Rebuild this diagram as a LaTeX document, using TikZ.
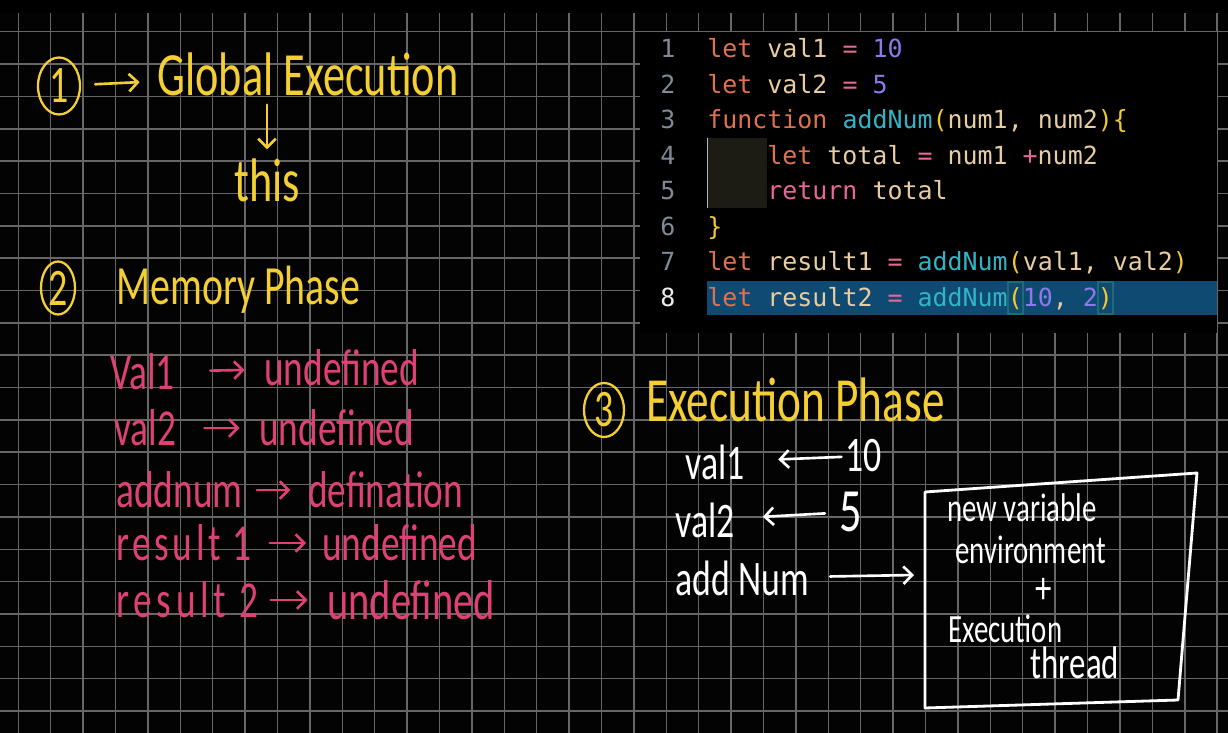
\documentclass[tikz,border=0pt]{standalone}
\usepackage{fontspec}
\usepackage{xcolor}
\usetikzlibrary{arrows.meta, positioning, shapes.geometric}

\setmainfont{Carlito}
\newfontfamily\handfont[FakeStretch=0.72]{Carlito}
\newfontfamily\codefont{DejaVu Sans Mono}

\definecolor{boardbg}{HTML}{030303}
\definecolor{gridgray}{HTML}{666666}
\definecolor{handyellow}{HTML}{F3CF33}
\definecolor{handpink}{HTML}{DE4175}
\definecolor{codekw}{HTML}{DE7150}
\definecolor{codeid}{HTML}{E8CCA2}
\definecolor{codeop}{HTML}{E8679A}
\definecolor{codenum}{HTML}{8C7AEA}
\definecolor{codefn}{HTML}{33B4C6}
\definecolor{codebr}{HTML}{F2C92E}
\definecolor{codeln}{HTML}{7F8A94}
\definecolor{hlbar}{HTML}{0E4A72}
\definecolor{indentbg}{HTML}{1C1B14}

% code tokens
\newcommand{\ckw}[1]{\textcolor{codekw}{#1}}
\newcommand{\cid}[1]{\textcolor{codeid}{#1}}
\newcommand{\cop}[1]{\textcolor{codeop}{#1}}
\newcommand{\cnum}[1]{\textcolor{codenum}{#1}}
\newcommand{\cfn}[1]{\textcolor{codefn}{#1}}
\newcommand{\cbr}[1]{\textcolor{codebr}{#1}}

\tikzset{
  gridline/.style={draw=gridgray, line width=0.9pt},
  codeline/.style={anchor=base west, inner sep=0pt, font=\codefont\fontsize{14.2}{17}\selectfont},
  lineno/.style={anchor=base, inner sep=0pt, text=codeln, font=\codefont\fontsize{14.2}{17}\selectfont},
  hand/.style={inner sep=0pt, font=\handfont\fontsize{29.5}{30}\selectfont},
  title/.style={hand, text=handyellow, font=\handfont\fontsize{35}{36}\selectfont},
  numcirc/.style={ellipse, draw=handyellow, text=handyellow, line width=1.3pt, inner sep=0pt,
    font=\handfont\fontsize{30}{30}\selectfont},
  memtext/.style={hand, anchor=west, text=handpink},
  exectext/.style={hand, anchor=west, text=white, font=\handfont\fontsize{28.3}{29}\selectfont},
  boxtext/.style={hand, anchor=west, text=white, font=\handfont\fontsize{22.8}{23}\selectfont},
  harrow/.style={->, line width=1.5pt, line cap=round},
}

\begin{document}
\begin{tikzpicture}[x=0.02cm, y=-0.02cm, >={Straight Barb[length=5pt,width=10pt]}]
  \useasboundingbox (0,0) rectangle (1228,733);
  \fill[boardbg] (0,0) rectangle (1228,733);
  \fill[black] (0,0) rectangle (1228,13);

  % grid
  \foreach \gx in {0,...,37}
    \draw[gridline] ({18.3+32.4*\gx},13) -- ({18.3+32.4*\gx},733);
  \foreach \gy in {0,...,21}
    \draw[gridline] (0,{31.7+32.35*\gy}) -- (1228,{31.7+32.35*\gy});

  % code panel
  \fill[black] (640,32) rectangle (1217,333);
  \fill[indentbg] (707,138) rectangle (767,208);
  \draw[codeln!60, line width=0.4pt] (707,138) -- (707,208);
  \fill[hlbar] (707,281) rectangle (1217,315);
  \draw[codefn!60!black, line width=0.6pt] (1008,282) rectangle (1023,314);
  \draw[codefn!60!black, line width=0.6pt] (1098,282) rectangle (1113,314);

  \foreach \ln in {1,...,7}
    \node[lineno] (ln\ln) at (668,{58+35.5*(\ln-1)}) {\ln};
  \node[lineno, text=white!85!gray] (ln8) at (668,306.5) {8};

  \node[codeline] (code1) at (707,58) {\ckw{let} \cid{val1} \cop{=} \cnum{10}};
  \node[codeline] (code2) at (707,93.5) {\ckw{let} \cid{val2} \cop{=} \cnum{5}};
  \node[codeline] (code3) at (707,129) {\ckw{function} \cfn{addNum}\cbr{(}\cid{num1, num2}\cbr{)\{}};
  \node[codeline] (code4) at (767,164.5) {\ckw{let} \cid{total} \cop{=} \cid{num1} \cop{+}\cid{num2}};
  \node[codeline] (code5) at (767,200) {\cop{return} \cid{total}};
  \node[codeline] (code6) at (707,235.5) {\cbr{\}}};
  \node[codeline] (code7) at (707,271) {\ckw{let} \cid{result1} \cop{=} \cfn{addNum}\cbr{(}\cid{val1, val2}\cbr{)}};
  \node[codeline] (code8) at (707,306.5) {\ckw{let} \cid{result2} \cop{=} \cfn{addNum}\cbr{(}\cnum{10}\cid{, }\cnum{2}\cbr{)}};

  % 1 -> global execution
  \node[numcirc, minimum width=0.84cm, minimum height=1.14cm] (c1) at (59,86) {1};
  \node[title] (global) at (308,74) {Global Execution};
  \node[title] (this) at (267,180) {this};
  \draw[harrow, draw=handyellow, shorten <=8pt, shorten >=10pt] (c1) -- (global);
  \draw[harrow, draw=handyellow, shorten <=5pt, shorten >=5pt] (global.south -| this.north) -- (this.north);

  % 2 memory phase
  \node[numcirc, minimum width=0.68cm, minimum height=1.06cm] (c2) at (58,288) {2};
  \node[title, anchor=west, font=\handfont\fontsize{31.5}{32}\selectfont] (memory) at (116,290) {Memory Phase};

  \node[memtext] (m1a) at (110,372) {Val1};
  \node[memtext] (m1b) at (264,368) {undefined};
  \node[memtext] (m2a) at (114,428) {val2};
  \node[memtext] (m2b) at (259,428) {undefined};
  \node[memtext] (m3a) at (116,490) {addnum};
  \node[memtext] (m3b) at (308,490) {defination};
  \node[memtext, font=\handfont\fontsize{29.5}{30}\selectfont\addfontfeature{LetterSpace=7}] (m4a) at (116,543) {result 1};
  \node[memtext] (m4b) at (322,543) {undefined};
  \node[memtext, font=\handfont\fontsize{29.5}{30}\selectfont\addfontfeature{LetterSpace=9}] (m5a) at (116,600) {result 2};
  \node[memtext, font=\handfont\fontsize{32}{33}\selectfont] (m5b) at (327,600) {undefined};
  \foreach \r/\sa/\sb in {1/20pt/11pt, 2/16pt/11pt, 3/8pt/10pt, 4/10pt/9pt, 5/7pt/11pt}
    \draw[harrow, draw=handpink, shorten <=\sa, shorten >=\sb] (m\r a) -- (m\r b);

  % 3 execution phase
  \node[numcirc, minimum width=0.8cm, minimum height=1.08cm] (c3) at (604,410) {3};
  \node[title, anchor=west, font=\handfont\fontsize{35.8}{36}\selectfont] (execphase) at (646,400) {Execution Phase};

  \node[exectext] (e1) at (685,462) {val1};
  \node[exectext] (ten) at (845,456) {10};
  \node[exectext] (e2) at (675,520) {val2};
  \node[exectext, font=\handfont\fontsize{35}{36}\selectfont] (five) at (839,512) {5};
  \node[exectext] (e3) at (675,578) {add Num};
  \draw[harrow, draw=white, shorten <=2pt, shorten >=19pt] (ten) -- (e1);
  \draw[harrow, draw=white, shorten <=8pt, shorten >=16pt] (five) -- (e2);

  % execution context box
  \coordinate (b1) at (925,492);
  \coordinate (b2) at (1197,473);
  \coordinate (b3) at (1178,700);
  \coordinate (b4) at (925,708);
  \draw[white, line width=1.6pt, line join=round] (b1) -- (b2) -- (b3) -- (b4) -- cycle;
  \coordinate (boxin) at (914,575);
  \draw[harrow, draw=white, shorten <=12pt] (e3) -- (boxin);

  \node[boxtext] (t1) at (947,508) {new variable};
  \node[boxtext] (t2) at (955,550) {environment};
  \node[boxtext, anchor=center, font=\handfont\fontsize{26}{27}\selectfont] (t3) at (1044,591) {+};
  \node[boxtext] (t4) at (948,629) {Execution};
  \node[boxtext, font=\handfont\fontsize{26}{27}\selectfont] (t5) at (1030,663) {thread};
\end{tikzpicture}
\end{document}
